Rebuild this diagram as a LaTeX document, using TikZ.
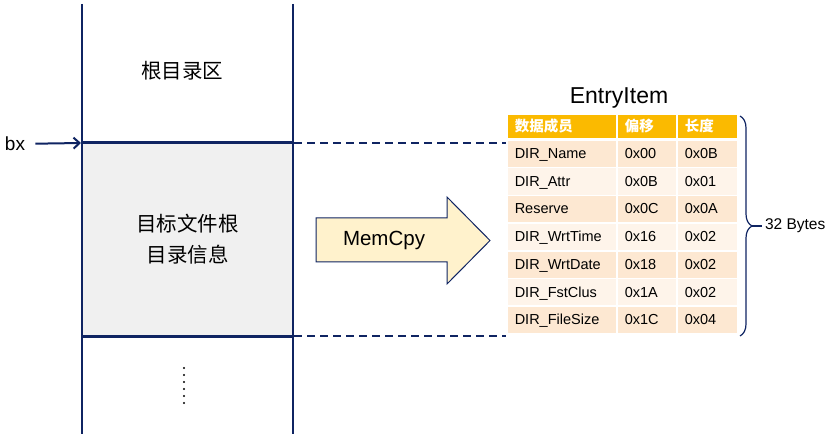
\documentclass[tikz,border=0pt]{standalone}
\usepackage{fontspec}
\setmainfont{Liberation Sans}
\newfontfamily\cjk{Noto Sans CJK SC}
\usepackage{xcolor}
\definecolor{colorLine}{HTML}{0F2462}
\definecolor{colorGray}{HTML}{F0F0F0}
\definecolor{colorArrow}{HTML}{FFF2CC}
\definecolor{colorHead}{HTML}{FBBA00}
\definecolor{colorRowA}{HTML}{FDE8D2}
\definecolor{colorRowB}{HTML}{FEF4EA}
\usepackage{tikz}
\usetikzlibrary{arrows.meta, positioning, decorations.pathreplacing}
\tikzset{
  cell/.style={draw=white, line width=1.5pt, minimum height=27.7pt, inner xsep=8pt, inner ysep=0pt, anchor=west, align=left, text height=10.5pt, text depth=1pt, font=\fontsize{14.5}{16}\selectfont},
  hdrcell/.style={cell, fill=colorHead, minimum height=25pt, text=white, font=\cjk\bfseries\fontsize{14.5}{16}\selectfont},
  membox/.style={fill=colorGray, minimum width=211pt, minimum height=191pt, inner sep=0pt, align=center, font=\cjk\fontsize{20.5}{31}\selectfont},
  dashline/.style={draw=colorLine, line width=2pt, dash pattern=on 8pt off 5pt},
}

\begin{document}
\begin{tikzpicture}[x=1pt, y=-1pt, >={Straight Barb[length=6pt,width=11pt]}, line width=2pt, draw=colorLine]
\useasboundingbox (0,0) rectangle (832,438);
% memory column
\node[membox] (tgt) at (187.5,239.5) {目标文件根\\目录信息};
\node[font=\cjk\fontsize{20.5}{24}\selectfont] (root) at (182,71) {根目录区};
\draw (82,4) -- (82,434);
\draw (293,4) -- (293,434);
\draw[line width=3pt] (tgt.north west) -- (tgt.north east);
\draw[line width=3pt] (tgt.south west) -- (tgt.south east);
\foreach \d in {0,...,5}
  \fill (184,368+7*\d) circle (1.1pt);
\node[font=\fontsize{19}{22}\selectfont] (bx) at (15,144) {bx};
\draw[->, shorten <=6pt] (bx) -- (tgt.north west);
% MemCpy arrow
\draw[fill=colorArrow, line width=1pt] (316,218) -- (447,218) -- (447,197) -- (490,240.5) -- (447,284) -- (447,262) -- (316,262) -- cycle;
\node[font=\fontsize{20.5}{24}\selectfont] (mc) at (384,240) {MemCpy};
% EntryItem table
\node[font=\fontsize{23}{26}\selectfont] (title) at (619,98) {EntryItem};
\node[hdrcell, text width=94pt] (h1) at (506,126.5) {数据成员};
\node[hdrcell, text width=44pt] (h2) at (616,126.5) {偏移};
\node[hdrcell, text width=45pt] (h3) at (676,126.5) {长度};
\foreach \nm/\off/\len [count=\i] in {DIR\_Name/0x00/0x0B, DIR\_Attr/0x0B/0x01, Reserve/0x0C/0x0A, DIR\_WrtTime/0x16/0x02, DIR\_WrtDate/0x18/0x02, DIR\_FstClus/0x1A/0x02, DIR\_FileSize/0x1C/0x04}{
  \ifodd\i \def\rowfill{colorRowA}\else \def\rowfill{colorRowB}\fi
  \node[cell, fill=\rowfill, text width=94pt] (n\i) at (506,126.15+27.7*\i) {\nm};
  \node[cell, fill=\rowfill, text width=44pt] (o\i) at (616,126.15+27.7*\i) {\off};
  \node[cell, fill=\rowfill, text width=45pt] (l\i) at (676,126.15+27.7*\i) {\len};
}
\draw[dashline] (tgt.north east) -- (tgt.north east -| n1.west);
\draw[dashline] (tgt.south east) -- (tgt.south east -| n7.west);
% brace
\draw[line width=1.2pt, decorate, decoration={brace, amplitude=12pt}] (740,116) -- (740,336);
\coordinate (tip) at (752,226);
\node[font=\fontsize{15.5}{18}\selectfont, inner sep=2pt, right=10pt of tip] (bytes) {32 Bytes};
\draw[line width=1.2pt] (tip) -- (bytes.west);
\end{tikzpicture}
\end{document}
